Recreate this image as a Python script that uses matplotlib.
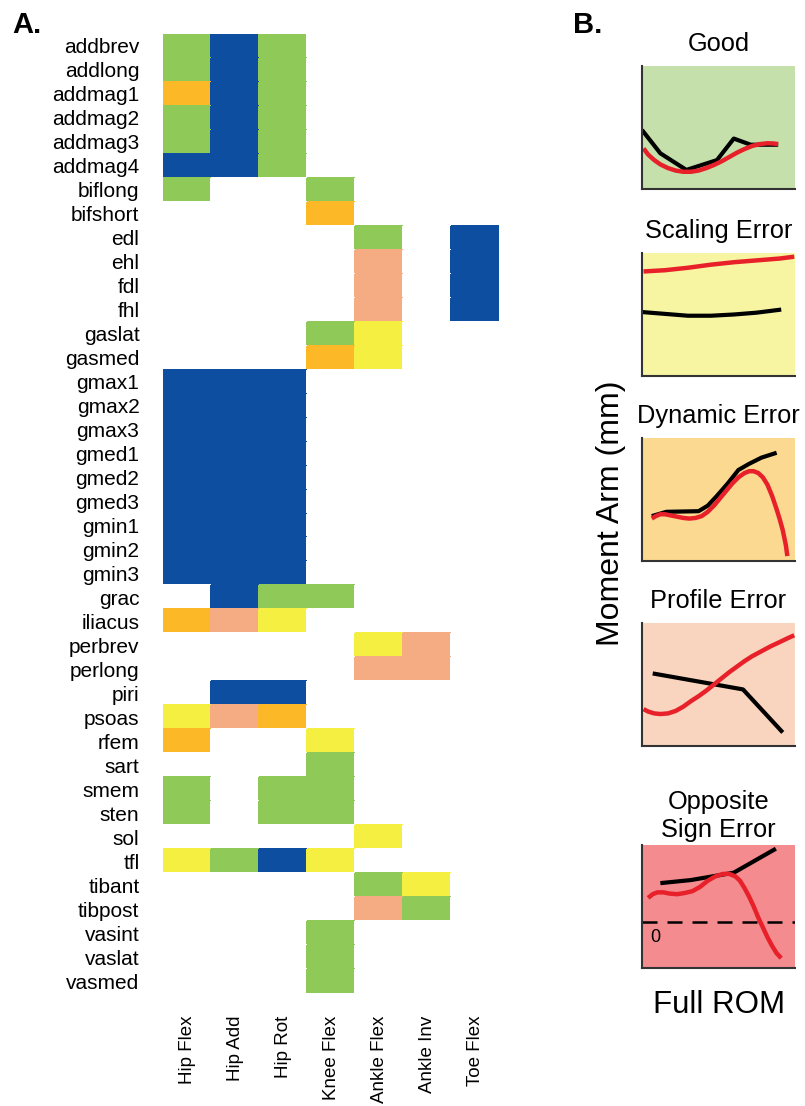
import numpy as np
import matplotlib
matplotlib.use("Agg")
import matplotlib.pyplot as plt
from matplotlib.colors import ListedColormap, BoundaryNorm

plt.rcParams['font.family'] = ['Liberation Sans', 'DejaVu Sans']

# ---------------- data ----------------
muscles = ["addbrev", "addlong", "addmag1", "addmag2", "addmag3", "addmag4",
           "biflong", "bifshort", "edl", "ehl", "fdl", "fhl", "gaslat", "gasmed",
           "gmax1", "gmax2", "gmax3", "gmed1", "gmed2", "gmed3", "gmin1", "gmin2",
           "gmin3", "grac", "iliacus", "perbrev", "perlong", "piri", "psoas", "rfem",
           "sart", "smem", "sten", "sol", "tfl", "tibant", "tibpost", "vasint",
           "vaslat", "vasmed"]
joints = ["Hip Flex", "Hip Add", "Hip Rot", "Knee Flex", "Ankle Flex", "Ankle Inv", "Toe Flex"]

# rating codes: 0 none, 1 good, 2 scaling, 3 dynamic, 4 profile, 5 other
hip_flex = [1, 1, 3, 1, 1, 5, 1, 0, 0, 0, 0, 0, 0, 0, 5, 5, 5, 5, 5, 5, 5, 5, 5, 0,
            3, 0, 0, 0, 2, 3, 0, 1, 1, 0, 2, 0, 0, 0, 0, 0]
hip_add = [5, 5, 5, 5, 5, 5, 0, 0, 0, 0, 0, 0, 0, 0, 5, 5, 5, 5, 5, 5, 5, 5, 5, 5,
           4, 0, 0, 5, 4, 0, 0, 0, 0, 0, 1, 0, 0, 0, 0, 0]
hip_rot = [1, 1, 1, 1, 1, 1, 0, 0, 0, 0, 0, 0, 0, 0, 5, 5, 5, 5, 5, 5, 5, 5, 5, 1,
           2, 0, 0, 5, 3, 0, 0, 1, 1, 0, 5, 0, 0, 0, 0, 0]
knee_flex = [0, 0, 0, 0, 0, 0, 1, 3, 0, 0, 0, 0, 1, 3, 0, 0, 0, 0, 0, 0, 0, 0, 0, 1,
             0, 0, 0, 0, 0, 2, 1, 1, 1, 0, 2, 0, 0, 1, 1, 1]
ankle_flex = [0, 0, 0, 0, 0, 0, 0, 0, 1, 4, 4, 4, 2, 2, 0, 0, 0, 0, 0, 0, 0, 0, 0, 0,
              0, 2, 4, 0, 0, 0, 0, 0, 0, 2, 0, 1, 4, 0, 0, 0]
ankle_inv = [0, 0, 0, 0, 0, 0, 0, 0, 0, 0, 0, 0, 0, 0, 0, 0, 0, 0, 0, 0, 0, 0, 0, 0,
             0, 4, 4, 0, 0, 0, 0, 0, 0, 0, 0, 2, 1, 0, 0, 0]
toe_flex = [0, 0, 0, 0, 0, 0, 0, 0, 5, 5, 5, 5, 0, 0, 0, 0, 0, 0, 0, 0, 0, 0, 0, 0,
            0, 0, 0, 0, 0, 0, 0, 0, 0, 0, 0, 0, 0, 0, 0, 0]

cell_colors = ["#FFFFFF", "#8FC957", "#F5EF41", "#FDB827", "#F6AC82", "#0D4EA0"]

# example moment-arm curves (normalised ROM on x)
panel_titles = ["Good", "Scaling Error", "Dynamic Error", "Profile Error", "Opposite\nSign Error"]
panel_bg = ["#C5E0AB", "#F7F5A1", "#FBD991", "#F9D4BE", "#F48B8F"]

good_ref_x = [0.0, 0.12, 0.29, 0.49, 0.60, 0.71, 0.89]
good_ref_y = [0.48, 0.29, 0.155, 0.235, 0.41, 0.36, 0.36]
good_mod_x = [0.01, 0.04, 0.08, 0.12, 0.17, 0.22, 0.27, 0.32, 0.37, 0.42, 0.47, 0.52,
              0.57, 0.62, 0.67, 0.72, 0.77, 0.82, 0.86, 0.89]
good_mod_y = [0.33, 0.28, 0.235, 0.20, 0.17, 0.15, 0.14, 0.14, 0.15, 0.17, 0.195, 0.225,
              0.26, 0.295, 0.325, 0.35, 0.365, 0.372, 0.37, 0.365]

scal_ref_x = [0.0, 0.15, 0.30, 0.45, 0.60, 0.75, 0.91]
scal_ref_y = [0.52, 0.505, 0.49, 0.49, 0.50, 0.515, 0.54]
scal_mod_x = [0.01, 0.15, 0.30, 0.45, 0.60, 0.75, 0.90, 0.995]
scal_mod_y = [0.85, 0.86, 0.88, 0.905, 0.925, 0.94, 0.955, 0.97]

dyn_ref_x = [0.064, 0.16, 0.37, 0.43, 0.49, 0.56, 0.63, 0.70, 0.78, 0.88]
dyn_ref_y = [0.365, 0.40, 0.405, 0.45, 0.53, 0.63, 0.74, 0.79, 0.84, 0.88]
dyn_mod_x = [0.064, 0.09, 0.12, 0.15, 0.19, 0.23, 0.27, 0.31, 0.35, 0.39, 0.43, 0.47,
             0.51, 0.55, 0.59, 0.63, 0.67, 0.70, 0.73, 0.76, 0.79, 0.82, 0.85, 0.88,
             0.90, 0.92, 0.94, 0.95]
dyn_mod_y = [0.345, 0.365, 0.38, 0.38, 0.37, 0.36, 0.35, 0.345, 0.35, 0.365, 0.40, 0.45,
             0.51, 0.57, 0.63, 0.68, 0.715, 0.73, 0.73, 0.715, 0.68, 0.62, 0.53, 0.42,
             0.34, 0.25, 0.13, 0.04]

prof_ref_x = [0.07, 0.66, 0.92]
prof_ref_y = [0.59, 0.46, 0.11]
prof_mod_x = [0.01, 0.04, 0.08, 0.12, 0.17, 0.22, 0.27, 0.32, 0.37, 0.42, 0.47, 0.52,
              0.57, 0.62, 0.67, 0.72, 0.78, 0.84, 0.90, 0.95, 0.995]
prof_mod_y = [0.30, 0.28, 0.265, 0.26, 0.265, 0.285, 0.32, 0.365, 0.405, 0.45, 0.50, 0.55,
              0.60, 0.645, 0.69, 0.73, 0.77, 0.81, 0.845, 0.875, 0.90]

opp_ref_x = [0.12, 0.32, 0.60, 0.875]
opp_ref_y = [0.69, 0.715, 0.775, 0.97]
opp_mod_x = [0.04, 0.07, 0.10, 0.14, 0.18, 0.23, 0.28, 0.33, 0.38, 0.43, 0.48, 0.53,
             0.57, 0.61, 0.64, 0.67, 0.70, 0.73, 0.76, 0.79, 0.82, 0.85, 0.88, 0.91]
opp_mod_y = [0.57, 0.60, 0.615, 0.615, 0.605, 0.60, 0.61, 0.625, 0.66, 0.71, 0.745, 0.765,
             0.765, 0.745, 0.71, 0.65, 0.58, 0.50, 0.41, 0.33, 0.25, 0.18, 0.12, 0.08]
zero_level = 0.376

ref_curves = [(good_ref_x, good_ref_y), (scal_ref_x, scal_ref_y), (dyn_ref_x, dyn_ref_y),
              (prof_ref_x, prof_ref_y), (opp_ref_x, opp_ref_y)]
mod_curves = [(good_mod_x, good_mod_y), (scal_mod_x, scal_mod_y), (dyn_mod_x, dyn_mod_y),
              (prof_mod_x, prof_mod_y), (opp_mod_x, opp_mod_y)]

# ---------------- figure ----------------
W, H = 805, 1106
fig = plt.figure(figsize=(W / 100, H / 100), dpi=100)


def px_axes(x0, y0, x1, y1):
    return fig.add_axes([x0 / W, 1 - y1 / H, (x1 - x0) / W, (y1 - y0) / H])


# panel A: rating grid
axA = px_axes(163, 34, 499, 993)
grid = np.array([hip_flex, hip_add, hip_rot, knee_flex, ankle_flex, ankle_inv, toe_flex]).T
cmap = ListedColormap(cell_colors)
norm = BoundaryNorm(np.arange(-0.5, 6.5, 1), cmap.N)
axA.pcolormesh(np.arange(len(joints) + 1), np.arange(len(muscles) + 1), grid,
               cmap=cmap, norm=norm, edgecolor='face', linewidth=0.3)
axA.set_xlim(0, len(joints))
axA.set_ylim(len(muscles), 0)
axA.set_yticks(np.arange(len(muscles)) + 0.5)
axA.set_yticklabels(muscles, fontsize=15)
axA.set_xticks(np.arange(len(joints)) + 0.5)
axA.set_xticklabels(joints, rotation=90, fontsize=13.5)
axA.tick_params(axis='y', length=0, pad=17)
axA.tick_params(axis='x', length=0, pad=16.5)
for s in axA.spines.values():
    s.set_visible(False)

# panel B: example curves
box_tops = [66, 253, 438, 623, 845]
for i, top in enumerate(box_tops):
    ax = px_axes(642, top, 795, top + 123)
    ax.set_facecolor(panel_bg[i])
    ax.set_xlim(0, 1)
    ax.set_ylim(0, 1)
    ax.set_xticks([])
    ax.set_yticks([])
    for side in ("top", "right"):
        ax.spines[side].set_visible(False)
    for side in ("left", "bottom"):
        ax.spines[side].set_color("#333333")
        ax.spines[side].set_linewidth(1.5)
    rx, ry = ref_curves[i]
    mx, my = mod_curves[i]
    ax.plot(rx, ry, color="black", lw=3, solid_joinstyle='round', solid_capstyle='butt')
    ax.plot(mx, my, color="#E8202A", lw=3.2, solid_joinstyle='round', solid_capstyle='butt')
    ax.set_title(panel_titles[i], fontsize=18.3, pad=(6 if i == 4 else 10.5),
                 linespacing=1.2)
    if i == 4:
        ax.axhline(zero_level, color="black", lw=1.8, dashes=(6, 4))
        ax.text(0.085, 0.245, "0", fontsize=13, ha='center', va='center')

fig.text(611 / W, 1 - 513 / H, "Moment Arm (mm)", rotation=90, fontsize=23,
         ha='center', va='center')
fig.text(719 / W, 1 - 1005 / H, "Full ROM", fontsize=22.5, ha='center', va='center')

fig.text(12 / W, 1 - 33 / H, "A.", fontsize=21, fontweight='bold', va='baseline', ha='left')
fig.text(573 / W, 1 - 33 / H, "B.", fontsize=21, fontweight='bold', va='baseline', ha='left')

fig.savefig("out.png", dpi=100, facecolor="white")
